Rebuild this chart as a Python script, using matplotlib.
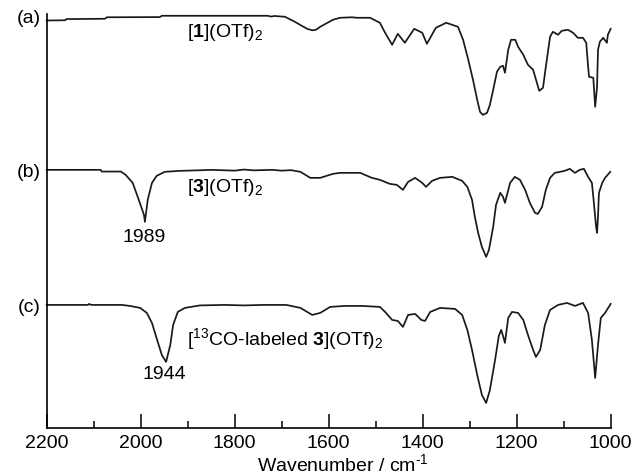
import matplotlib
matplotlib.use("Agg")
import matplotlib.pyplot as plt
from matplotlib.ticker import MultipleLocator

plt.rcParams['font.family'] = ['Liberation Sans', 'DejaVu Sans']
plt.rcParams['mathtext.fontset'] = 'custom'
plt.rcParams['mathtext.rm'] = 'Liberation Sans'
plt.rcParams['mathtext.it'] = 'Liberation Sans:italic'
plt.rcParams['mathtext.bf'] = 'Liberation Sans:bold'

# IR spectra, depth of the band below each trace's top line (arbitrary units)
wn_a = [2200, 2161, 2158, 2076, 2072, 1959, 1955, 1730, 1722, 1716, 1693, 1672,
        1661, 1646, 1635, 1627, 1618, 1591, 1576, 1550, 1540, 1512, 1491, 1480,
        1465, 1453, 1438, 1418, 1401, 1391, 1372, 1350, 1325, 1314, 1303, 1293,
        1284, 1278, 1272, 1263, 1257, 1250, 1242, 1235, 1229, 1225, 1218, 1212,
        1203, 1197, 1186, 1176, 1165, 1157, 1152, 1144, 1138, 1129, 1123, 1112,
        1104, 1091, 1080, 1070, 1059, 1052, 1048, 1046, 1037, 1033, 1029, 1027,
        1023, 1016, 1008, 1006, 1000]
ab_a = [4.7, 4.5, 3.3, 3.0, 1.5, 1.3, 0.0, 0.0, 0.8, 0.2, 1.0, 6.0,
        9.0, 13, 14.5, 14, 11, 4, 2, 1.5, 2, 2, 7, 17,
        29, 18, 27, 13, 17, 28, 12, 7, 11, 24, 44, 64,
        84, 96, 99, 97, 89, 74, 56, 51, 50, 57, 34, 24,
        24, 31, 39, 49, 54, 67, 75, 72, 51, 21, 16, 19,
        15, 14, 17, 22, 22, 27, 51, 61, 62, 91, 71, 34,
        26, 22, 27, 19, 13]

wn_b = [2200, 2085, 2083, 2042, 2032, 2017, 2004, 1993, 1991, 1985, 1976, 1966,
        1949, 1917, 1880, 1850, 1800, 1780, 1760, 1720, 1700, 1680, 1660, 1639,
        1618, 1591, 1576, 1533, 1508, 1491, 1470, 1455, 1442, 1431, 1416, 1401,
        1393, 1380, 1363, 1337, 1316, 1305, 1295, 1289, 1282, 1274, 1265, 1259,
        1250, 1244, 1235, 1229, 1225, 1214, 1204, 1193, 1182, 1172, 1161, 1155,
        1146, 1138, 1129, 1119, 1108, 1098, 1087, 1076, 1066, 1057, 1048, 1040,
        1037, 1031, 1029, 1027, 1025, 1018, 1012, 1001]
ab_b = [0, 0, 1.7, 1.7, 5, 13, 30, 45, 52, 30, 13, 6,
        2, 1, 0.5, 0, 0.8, -0.3, 0.5, 0, 0.8, 0.3, 2, 8,
        8, 4, 3, 3, 8, 10, 14, 15, 20, 12, 8, 13,
        17, 11, 8, 7, 11, 17, 30, 47, 63, 77, 87, 80,
        57, 35, 23, 27, 33, 13, 7, 10, 20, 33, 43, 44,
        37, 20, 8, 3, 2, 1, -1, 3, 0, -1, 7, 13,
        27, 57, 63, 47, 23, 13, 8, 2]

wn_c = [2200, 2112, 2110, 2105, 2040, 2023, 2001, 1987, 1976, 1965, 1955, 1946,
        1937, 1931, 1921, 1906, 1874, 1820, 1780, 1740, 1690, 1660, 1635, 1618,
        1597, 1565, 1530, 1491, 1480, 1465, 1453, 1442, 1431, 1416, 1403, 1395,
        1384, 1363, 1331, 1316, 1305, 1295, 1284, 1274, 1265, 1257, 1246, 1238,
        1233, 1229, 1225, 1218, 1210, 1197, 1186, 1176, 1165, 1159, 1150, 1140,
        1129, 1112, 1093, 1076, 1059, 1048, 1040, 1033, 1027, 1021, 1012, 1000]
ab_c = [0, 0, -1, 0, 0, 1, 3, 8, 18, 35, 50, 57,
        40, 20, 7, 3, 0.5, 0, 0.5, 0, 0, 3, 10, 8,
        2, 1, 1, 2, 7, 15, 16, 22, 10, 9, 15, 16,
        7, 3, 4, 10, 25, 45, 70, 90, 98, 85, 55, 31,
        25, 31, 38, 13, 7, 8, 15, 30, 45, 52, 45, 20,
        5, 0, -2, 1, -2, 8, 35, 73, 40, 13, 8, -1]

trace_labels = ['(a)', '(b)', '(c)']
compound_names = [r'[$\mathbf{1}$](OTf)$_2$', r'[$\mathbf{3}$](OTf)$_2$',
                  r'[$^{13}$CO-labeled $\mathbf{3}$](OTf)$_2$']
offsets = [0, -154, -289]

fig = plt.figure(figsize=(6.36, 4.75), dpi=100)
ax = fig.add_axes([0.0734, 0.099, 0.8868, 0.872])

for wn, ab, off in zip([wn_a, wn_b, wn_c], [ab_a, ab_b, ab_c], offsets):
    ax.plot(wn, [off - v for v in ab], color='#1a1a1a', lw=1.25,
            solid_joinstyle='round', clip_on=False)

ax.set_xlim(2200, 1000)
ax.set_ylim(-412, 2)

for lab, off in zip(trace_labels, offsets):
    ax.text(2212, off - 3, lab, ha='right', va='center', fontsize=14)

ax.text(1901, -17, compound_names[0], ha='left', va='center', fontsize=14)
ax.text(1901, -172, compound_names[1], ha='left', va='center', fontsize=14)
ax.text(1902, -323, compound_names[2], ha='left', va='center', fontsize=14)
ax.text(1993, -222, '1989', ha='center', va='center', fontsize=14)
ax.text(1950, -359, '1944', ha='center', va='center', fontsize=14)

ax.spines['top'].set_visible(False)
ax.spines['right'].set_visible(False)
ax.spines['left'].set_linewidth(1.2)
ax.spines['bottom'].set_linewidth(1.2)
ax.set_yticks([])
ax.xaxis.set_major_locator(MultipleLocator(200))
ax.xaxis.set_minor_locator(MultipleLocator(100))
ax.tick_params(axis='x', which='major', direction='in', length=10, width=1.1,
               labelsize=14, pad=5)
ax.tick_params(axis='x', which='minor', direction='in', length=5, width=1.1)
ax.set_xlabel(r'Wavenumber / cm$^{\text{-1}}$', fontsize=14, labelpad=2)
ax.xaxis.set_label_coords(0.525, -0.062)

fig.savefig('out.png', dpi=100)
